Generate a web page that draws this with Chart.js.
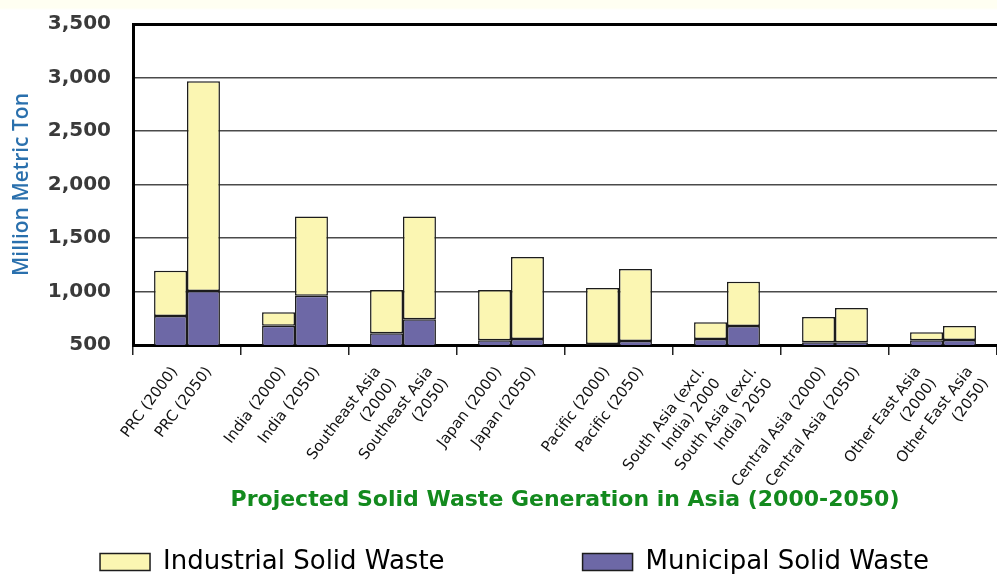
<!DOCTYPE html>
<html>
<head>
<meta charset="utf-8">
<script src="https://cdn.jsdelivr.net/npm/chart.js@4/dist/chart.umd.min.js"></script>
<style>
  html, body { margin: 0; padding: 0; background: #ffffff; }
  #wrap { width: 997px; height: 574px; background: linear-gradient(#fffff2 0, #fffff2 8px, #ffffff 10px); }
</style>
</head>
<body>
<div id="wrap"><canvas id="chart" width="997" height="574"></canvas></div>
<script>
const regions = ['PRC', 'India', 'Southeast Asia', 'Japan', 'Pacific', 'South Asia', 'Central Asia', 'Other East Asia'];

// one label per bar: the 2000 bar sits left in each group, the 2050 bar right
const labels2000 = [
    'PRC (2000)', 'India (2000)', ['Southeast Asia', '(2000)'], 'Japan (2000)',
    'Pacific (2000)', ['South Asia (excl.', 'India) 2000'], 'Central Asia (2000)', ['Other East Asia', '(2000)']
];
const labels2050 = [
    'PRC (2050)', 'India (2050)', ['Southeast Asia', '(2050)'], 'Japan (2050)',
    'Pacific (2050)', ['South Asia (excl.', 'India) 2050'], 'Central Asia (2050)', ['Other East Asia', '(2050)']
];

// million metric tons
const municipal2000 = [770, 680, 610, 545, 510, 556, 525, 545];
const industrial2000 = [425, 125, 405, 470, 523, 156, 237, 73];
const municipal2050 = [1005, 960, 740, 556, 537, 678, 525, 547];
const industrial2050 = [1960, 740, 960, 766, 673, 414, 321, 131];

const yTicks = [500, 1000, 1500, 2000, 2500, 3000, 3500];

const YELLOW = '#fbf6b2';
const PURPLE = '#6d68a6';
const EDGE = '#1c1c1c';

function barSet(label, data, color, stack) {
    return {
        label,
        data,
        stack,
        xAxisID: 'x',
        yAxisID: 'y',
        backgroundColor: color,
        borderColor: EDGE,
        borderWidth: 1.5,
        borderSkipped: false,
        categoryPercentage: 0.61,
        barPercentage: 1
    };
}

// two-line labels sit further apart than one-line ones, so they get their own axes
const oneLine = list => list.map(l => Array.isArray(l) ? '' : l);
const twoLine = list => list.map(l => Array.isArray(l) ? l : '');

const tickFont = { family: 'DejaVu Sans', size: 15, lineHeight: 1.3 };

// a label-only category axis with no height; stretched over the x axis after layout
function labelAxis(labels, offset) {
    return {
        type: 'category',
        position: 'bottom',
        labels,
        offset: true,
        weight: 0,
        grid: { display: false },
        border: { display: false },
        ticks: {
            autoSkip: false,
            minRotation: 53,
            maxRotation: 53,
            padding: 10,
            labelOffset: offset,
            color: '#111',
            font: tickFont
        },
        afterFit: scale => {
            scale.height = 0;
            scale.paddingLeft = 0;
            scale.paddingRight = 0;
        }
    };
}

const labelAxes = ['l2000', 'l2050', 'm2000', 'm2050'];

const overlayAxis = {
    id: 'overlayAxis',
    afterLayout(chart) {
        const b = chart.scales.x;
        labelAxes.forEach(id => {
            const a = chart.scales[id];
            a.bottom = b.bottom;
            a.height = b.bottom - a.top;
        });
    }
};

const ctx = document.getElementById('chart').getContext('2d');
new Chart(ctx, {
    type: 'bar',
    data: {
        labels: regions,
        datasets: [
            barSet('Municipal Solid Waste', municipal2000, PURPLE, 'y2000'),
            barSet('Industrial Solid Waste', industrial2000, YELLOW, 'y2000'),
            barSet('Municipal Solid Waste', municipal2050, PURPLE, 'y2050'),
            barSet('Industrial Solid Waste', industrial2050, YELLOW, 'y2050')
        ]
    },
    plugins: [overlayAxis],
    options: {
        responsive: false,
        animation: false,
        layout: { padding: { top: 24, right: 0, left: 32, bottom: -11 } },
        plugins: {
            tooltip: { enabled: false },
            legend: {
                position: 'bottom',
                labels: {
                    boxWidth: 50,
                    boxHeight: 17,
                    padding: 37.5,
                    color: '#222',
                    font: { family: 'DejaVu Sans', size: 26 },
                    generateLabels: () => [
                        { text: 'Industrial Solid Waste', fillStyle: YELLOW, strokeStyle: EDGE, lineWidth: 1.5, datasetIndex: 1 },
                        { text: '', fillStyle: 'rgba(0,0,0,0)', strokeStyle: 'rgba(0,0,0,0)', lineWidth: 0 },
                        { text: 'Municipal Solid Waste', fillStyle: PURPLE, strokeStyle: EDGE, lineWidth: 1.5, datasetIndex: 0 }
                    ]
                }
            }
        },
        scales: {
            l2000: labelAxis(oneLine(labels2000), -12),
            l2050: labelAxis(oneLine(labels2050), 22),
            m2000: labelAxis(twoLine(labels2000), -25),
            m2050: labelAxis(twoLine(labels2050), 27),
            x: {
                stacked: true,
                weight: 1,
                grid: {
                    offset: true,
                    drawOnChartArea: false,
                    drawTicks: true,
                    tickLength: 10,
                    color: '#222',
                    lineWidth: 1.5
                },
                border: { color: '#000', width: 3 },
                ticks: { display: false },
                title: {
                    display: true,
                    text: 'Projected Solid Waste Generation in Asia (2000-2050)',
                    color: '#138a1e',
                    font: { family: 'DejaVu Sans', size: 22, weight: 'bold' },
                    padding: { top: 0, bottom: -2 }
                },
                afterFit: scale => {
                    scale.height = 166.5;
                    scale.paddingLeft = 0;
                    scale.paddingRight = 0;
                }
            },
            y: {
                stacked: true,
                min: 500,
                max: 3500,
                afterBuildTicks: scale => { scale.ticks = yTicks.map(v => ({ value: v })); },
                grid: {
                    drawTicks: false,
                    color: c => c.tick && c.tick.value === 3500 ? '#000' : '#4a4a4a',
                    lineWidth: c => c.tick && c.tick.value === 3500 ? 3 : 1.5
                },
                border: { color: '#000', width: 3 },
                ticks: {
                    padding: 22,
                    color: '#3a3a3a',
                    font: { family: 'DejaVu Sans', size: 20, weight: 'bold' },
                    callback: v => v.toLocaleString('en-US')
                },
                title: {
                    display: true,
                    text: 'Million Metric Ton',
                    color: '#2a70ad',
                    font: { family: 'Open Sans', size: 21, weight: '600' },
                    padding: { top: -22.6, bottom: 0 }
                },
                afterFit: scale => {
                    scale.width = 101;
                    scale.paddingTop = 0;
                    scale.paddingBottom = 0;
                }
            }
        }
    }
});
</script>
</body>
</html>
